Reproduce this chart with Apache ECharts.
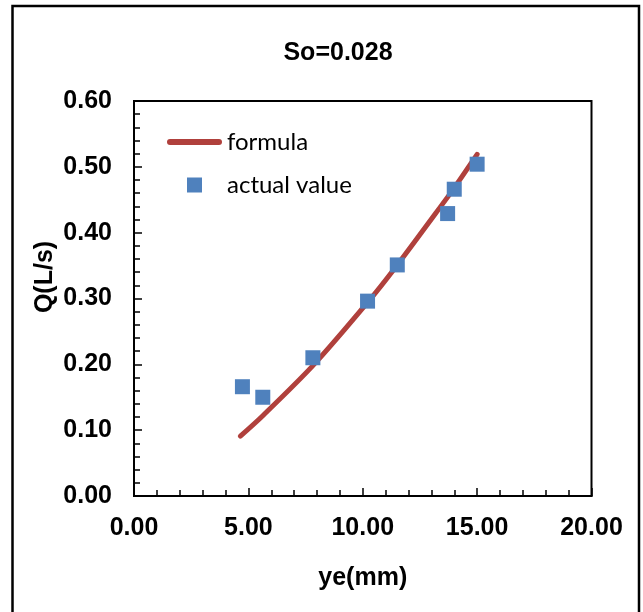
<!DOCTYPE html>
<html>
<head>
<meta charset="utf-8">
<script src="https://cdn.jsdelivr.net/npm/echarts@6/dist/echarts.min.js"></script>
<style>
html,body{margin:0;padding:0;background:#fff;}
#chart{width:643px;height:612px;}
</style>
</head>
<body>
<div id="chart"></div>
<script>
var titleText = 'So=0.028';
var xName = 'ye(mm)';
var yName = 'Q(L/s)';
var actualX = [4.74, 5.63, 7.82, 10.21, 11.51, 13.71, 14.00, 15.00];
var actualY = [0.166, 0.150, 0.210, 0.296, 0.351, 0.429, 0.466, 0.504];
var formulaX = [4.65, 5.63, 7.82, 10.21, 11.51, 13.71, 14.00, 15.00];
var formulaY = [0.091, 0.122, 0.198, 0.294, 0.351, 0.454, 0.468, 0.519];
var seriesNames = ['formula', 'actual value'];

var chart = echarts.init(document.getElementById('chart'), null, {renderer: 'canvas'});
var labelFont = {color: '#000', fontFamily: 'Liberation Sans, Arial', fontWeight: 'bold', fontSize: 25};

chart.setOption({
  animation: false,
  backgroundColor: '#fff',
  title: {
    text: titleText, left: 338, top: 41, textAlign: 'center', padding: 0,
    textStyle: {color: '#000', fontFamily: 'Liberation Sans, Arial', fontWeight: 'bold', fontSize: 25}
  },
  graphic: [
    {type: 'rect', shape: {x: 12.5, y: 6, width: 626.5, height: 620}, style: {fill: 'none', stroke: '#000', lineWidth: 2.5}, silent: true},
    {type: 'text', x: 45, y: 277, rotation: Math.PI / 2,
     style: {text: yName, fill: '#000', font: 'bold 25px "Liberation Sans", Arial', textAlign: 'center', textVerticalAlign: 'middle'}}
  ],
  legend: {
    orient: 'vertical', left: 167, top: 130, padding: 0, itemGap: 19,
    itemWidth: 55, itemHeight: 15,
    textStyle: {color: '#000', fontFamily: 'Lato, "Open Sans", sans-serif', fontSize: 24, lineHeight: 24},
    data: [
      {name: seriesNames[0], icon: 'path://M3,0L52,0A3,3 0 0 1 52,6L3,6A3,3 0 0 1 3,0Z'},
      {name: seriesNames[1], icon: 'path://M0,0L10,0L10,10L0,10Z'}
    ]
  },
  grid: {left: 134, top: 101, right: 51.5, bottom: 116, show: true, borderColor: '#000', borderWidth: 2, backgroundColor: 'transparent'},
  xAxis: {
    type: 'value', min: 0, max: 20, interval: 5,
    name: xName, nameLocation: 'middle', nameGap: 70,
    nameTextStyle: labelFont,
    axisLine: {show: true, onZero: false, lineStyle: {color: '#000', width: 2}},
    axisTick: {show: true, inside: true, length: 8, lineStyle: {color: '#000', width: 1.5}},
    minorTick: {show: true, splitNumber: 5, length: 6, lineStyle: {color: '#000', width: 1.5}},
    splitLine: {show: false},
    axisLabel: Object.assign({margin: 20, formatter: function (v) { return v.toFixed(2); }}, labelFont)
  },
  yAxis: {
    type: 'value', min: 0, max: 0.6, interval: 0.1,
    axisLine: {show: true, onZero: false, lineStyle: {color: '#000', width: 2}},
    axisTick: {show: true, inside: true, length: 8, lineStyle: {color: '#000', width: 1.5}},
    minorTick: {show: true, splitNumber: 5, length: 6, lineStyle: {color: '#000', width: 1.5}},
    splitLine: {show: false},
    axisLabel: Object.assign({margin: 22, formatter: function (v) { return v.toFixed(2); }}, labelFont)
  },
  series: [
    {
      name: seriesNames[0], type: 'line', smooth: 0.3, symbol: 'none',
      data: formulaX.map(function (x, i) { return [x, formulaY[i]]; }),
      lineStyle: {color: '#B0403C', width: 5, cap: 'round'},
      itemStyle: {color: '#B0403C'}, z: 2
    },
    {
      name: seriesNames[1], type: 'scatter', symbol: 'rect', symbolSize: 15,
      data: actualX.map(function (x, i) { return [x, actualY[i]]; }),
      itemStyle: {color: '#4F81BD', opacity: 1}, z: 3
    }
  ]
});
</script>
</body>
</html>
